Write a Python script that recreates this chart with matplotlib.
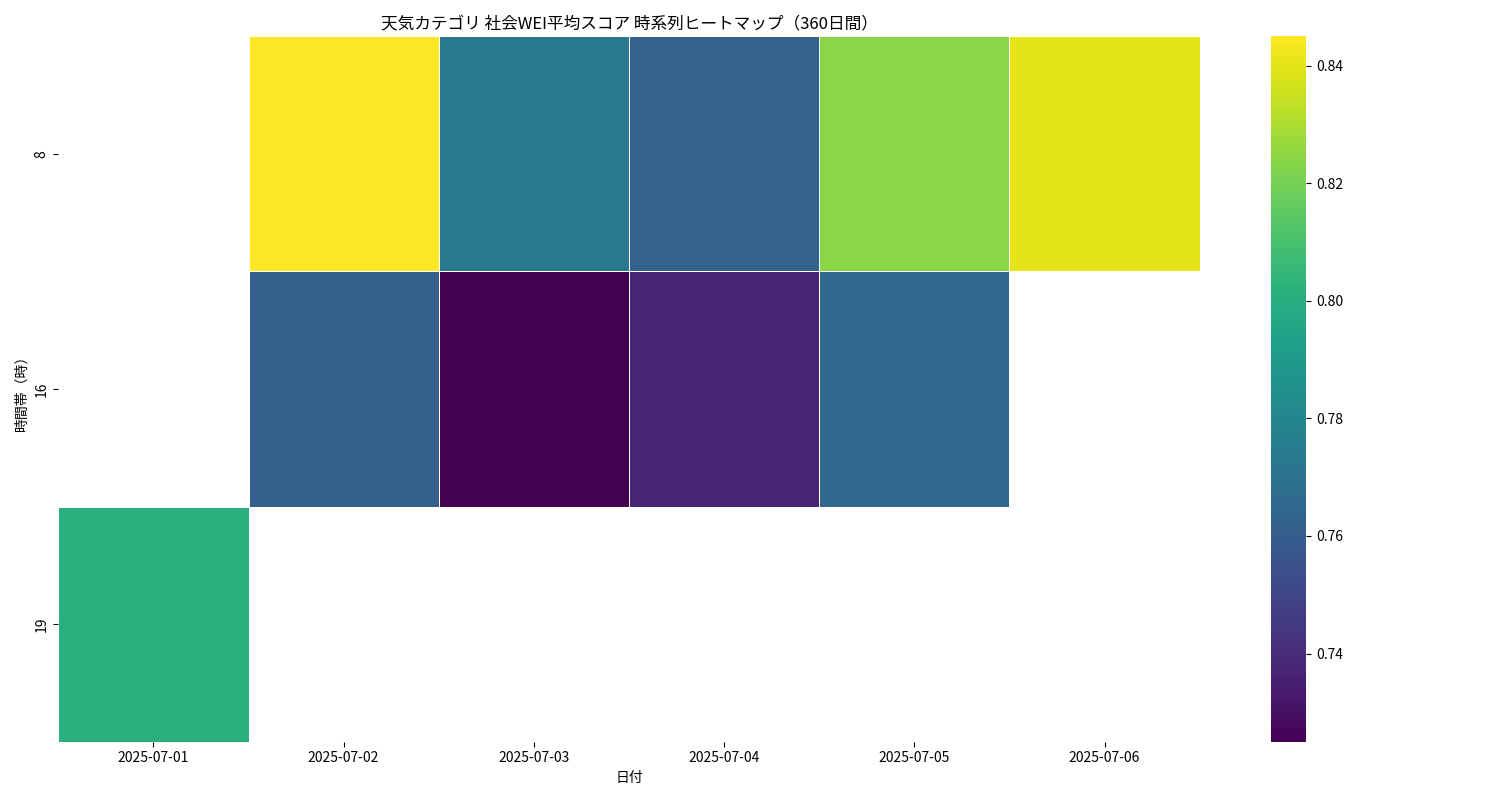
import numpy as np
import pandas as pd
import matplotlib
matplotlib.use("Agg")
import matplotlib.pyplot as plt
import seaborn as sns

plt.rcParams["font.family"] = ["Noto Sans CJK JP", "DejaVu Sans"]

dates = ["2025-07-01", "2025-07-02", "2025-07-03", "2025-07-04", "2025-07-05", "2025-07-06"]
hours = [8, 16, 19]
hour8 = [np.nan, 0.845, 0.773, 0.762, 0.824, 0.840]
hour16 = [np.nan, 0.761, 0.725, 0.738, 0.765, np.nan]
hour19 = [0.801, np.nan, np.nan, np.nan, np.nan, np.nan]

df = pd.DataFrame([hour8, hour16, hour19], index=hours, columns=dates)

fig, ax = plt.subplots(figsize=(15, 8), dpi=100)
sns.heatmap(df, cmap="viridis", linewidths=0.5, linecolor="white", ax=ax)
ax.set_title("天気カテゴリ 社会WEI平均スコア 時系列ヒートマップ（360日間）", fontsize=12)
ax.set_xlabel("日付")
ax.set_ylabel("時間帯（時）")
plt.setp(ax.get_yticklabels(), rotation=90, va="center")
plt.setp(ax.get_xticklabels(), rotation=0)
plt.tight_layout()
plt.savefig("out.png")
